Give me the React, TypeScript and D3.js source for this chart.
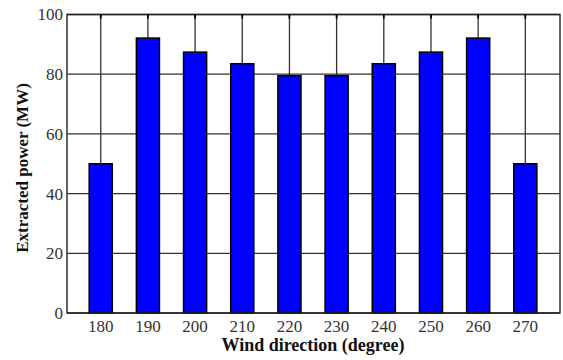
import React from 'react';
import * as d3 from 'd3';

// wind direction (degree) and extracted power (MW)
const directions = [180, 190, 200, 210, 220, 230, 240, 250, 260, 270];
const power = [50, 92.1, 87.4, 83.5, 79.5, 79.5, 83.5, 87.4, 92.1, 50];
const yTicks = [0, 20, 40, 60, 80, 100];

const W = 563;
const H = 360;
const margin = { top: 14.5, right: 3, bottom: 47, left: 67 };

const App = () => {
  const x = d3.scaleLinear()
    .domain([172.85, 277.35])
    .range([margin.left, W - margin.right]);

  const y = d3.scaleLinear()
    .domain([0, 100])
    .range([H - margin.bottom, margin.top]);

  const barW = x(185) - x(180) - 0.5; // bar width about half the spacing
  const font = "'Liberation Serif', 'DejaVu Serif', Times, serif";
  const gridColor = '#333';

  return (
    <svg width={W} height={H} style={{ position: 'absolute', left: 0, top: 0, background: '#fff' }}>
      {/* horizontal grid */}
      {yTicks.map(t => (
        <line key={'gy' + t} x1={x.range()[0]} x2={x.range()[1]} y1={y(t)} y2={y(t)}
          stroke={gridColor} strokeWidth={1.3} />
      ))}
      {/* vertical grid at each category */}
      {directions.map(d => (
        <line key={'gx' + d} x1={x(d)} x2={x(d)} y1={y(0)} y2={y(100)}
          stroke={gridColor} strokeWidth={1.3} />
      ))}

      {/* bars */}
      {directions.map((d, i) => (
        <rect key={'b' + d} x={x(d) - barW / 2} y={y(power[i])} width={barW}
          height={y(0) - y(power[i])} fill="#0000ff" stroke="#000" strokeWidth={1.5} />
      ))}

      {/* frame */}
      <rect x={x.range()[0]} y={y(100)} width={x.range()[1] - x.range()[0]} height={y(0) - y(100)}
        fill="none" stroke="#222" strokeWidth={1.4} />

      {/* inward ticks along the top */}
      {directions.map(d => (
        <line key={'t' + d} x1={x(d)} x2={x(d)} y1={y(100)} y2={y(100) + 4} stroke="#000" strokeWidth={1.8} />
      ))}

      <g style={{ fontFamily: font }}>
        {/* y tick labels */}
        {yTicks.map(t => (
          <text key={'yl' + t} x={x.range()[0] - 4} y={y(t)} dy="0.35em" textAnchor="end"
            fontSize={17} fill="#333">{t}</text>
        ))}
        {/* x tick labels */}
        {directions.map(d => (
          <text key={'xl' + d} x={x(d)} y={332} textAnchor="middle"
            fontSize={17} fill="#333">{d}</text>
        ))}

        {/* axis titles */}
        <text x={313} y={351} textAnchor="middle"
          fontSize={18} fontWeight="bold" fill="#111">Wind direction (degree)</text>
        <text transform={`translate(28,168) rotate(-90)`} textAnchor="middle"
          fontSize={17} fontWeight="bold" fill="#111">Extracted power (MW)</text>
      </g>
    </svg>
  );
};

export default App;
